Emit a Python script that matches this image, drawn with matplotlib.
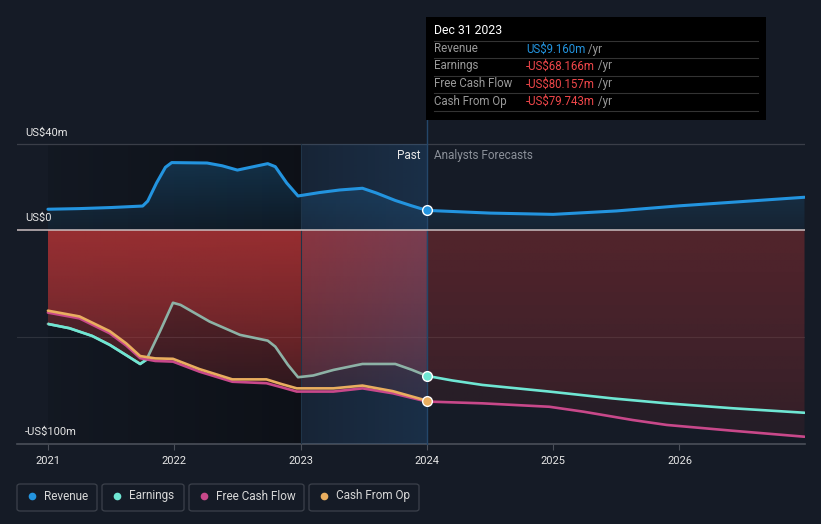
import numpy as np
import matplotlib
matplotlib.use('Agg')
import matplotlib.pyplot as plt
from matplotlib.patches import Rectangle, FancyBboxPatch
from matplotlib.lines import Line2D

plt.rcParams['font.family'] = ['Roboto', 'DejaVu Sans']

# ---- data (US$ m) ----
rev_x = [2021.0, 2021.25, 2021.5, 2021.75, 2021.79, 2021.86, 2021.93, 2021.98, 2022.26, 2022.38,
         2022.5, 2022.62, 2022.74, 2022.8, 2022.89, 2022.98, 2023.15, 2023.31, 2023.49, 2023.6,
         2023.75, 2023.88, 2024.0, 2024.5, 2025.0, 2025.5, 2026.0, 2026.5, 2026.99]
rev_y = [9.7, 10.0, 10.5, 11.2, 13.5, 22.0, 29.3, 31.5, 31.3, 30.0,
         28.0, 29.5, 31.0, 29.6, 22.0, 15.9, 17.5, 18.7, 19.5, 17.3,
         13.8, 11.3, 9.16, 7.9, 7.3, 8.9, 11.3, 13.3, 15.3]

ear_x = [2021.0, 2021.17, 2021.35, 2021.49, 2021.62, 2021.73, 2021.78, 2021.89, 2021.99, 2022.05,
         2022.28, 2022.52, 2022.74, 2022.8, 2022.9, 2022.98, 2023.1, 2023.26, 2023.49, 2023.75,
         2023.88, 2024.0, 2024.2, 2024.44, 2024.97, 2025.47, 2025.9, 2026.42, 2026.99]
ear_y = [-43.9, -45.9, -49.5, -53.7, -58.5, -62.6, -60.6, -47.0, -34.0, -35.0,
         -42.8, -49.0, -51.7, -54.5, -63.0, -68.8, -68.0, -65.4, -62.6, -62.6,
         -65.3, -68.166, -70.3, -72.4, -75.5, -78.7, -81.0, -83.3, -85.4]

fcf_x = [2021.0, 2021.25, 2021.49, 2021.62, 2021.73, 2021.85, 2021.99, 2022.2, 2022.46, 2022.73,
         2022.85, 2022.97, 2023.26, 2023.49, 2023.73, 2024.0, 2024.44, 2024.97, 2025.24, 2025.63,
         2025.9, 2026.42, 2026.99]
fcf_y = [-38.6, -41.3, -48.3, -54.0, -59.9, -61.2, -61.5, -66.2, -70.9, -71.6,
         -73.5, -75.5, -75.5, -74.0, -76.3, -80.157, -81.0, -82.6, -84.9, -88.8,
         -91.1, -93.8, -96.6]

cfo_x = [2021.0, 2021.25, 2021.49, 2021.62, 2021.73, 2021.85, 2021.99, 2022.2, 2022.46, 2022.73,
         2022.85, 2022.97, 2023.26, 2023.49, 2023.73, 2024.0]
cfo_y = [-37.7, -40.4, -47.3, -53.0, -58.9, -60.0, -60.2, -65.0, -69.8, -69.8,
         -72.0, -74.0, -74.0, -72.7, -75.3, -79.743]

years = [2021, 2022, 2023, 2024, 2025, 2026]
ytick_vals = [40, 0, -100]
ytick_text = ['US$40m', 'US$0', '-US$100m']

BG = '#151b26'
C_REV = '#2394df'
C_EAR = '#6fe6d3'
C_EAR_PAST = '#8db2a6'
C_FCF = '#c8488a'
C_CFO = '#e9ae5f'
RED = (0.69, 0.20, 0.21)

W, H = 821, 524
fig = plt.figure(figsize=(W / 100, H / 100), dpi=100, facecolor=BG)


def fpos(x, y):
    return x / W, 1 - y / H


ax = fig.add_axes([17 / W, (H - 444) / H, 788 / W, 324 / H])
ax.set_facecolor(BG)
XMIN, XMAX, YMIN, YMAX = 2020.755, 2026.994, -100, 51.4


def grad_fill(x, y, base, rgb, a_hi, a_lo, v_hi, v_lo, z):
    poly = ax.fill_between(x, y, base, facecolor='none', edgecolor='none')
    path = poly.get_paths()[0]
    img = np.zeros((256, 2, 4))
    img[..., :3] = rgb
    img[..., 3] = np.linspace(a_hi, a_lo, 256)[:, None]
    im = ax.imshow(img, extent=[x[0], x[-1], v_lo, v_hi], aspect='auto',
                   origin='upper', zorder=z, interpolation='bilinear')
    im.set_clip_path(path, transform=ax.transData)


# past darker band with horizontal gradient (below the 40m line only)
dark = np.zeros((2, 256, 4))
dark[..., 3] = np.linspace(0.1, 0.38, 256)[None, :]
ax.imshow(dark, extent=[2021, 2023, YMIN, 40], aspect='auto', zorder=1,
          interpolation='bilinear')

k_e = ear_x.index(2024.0)
k_f = fcf_x.index(2024.0)
k_r = rev_x.index(2024.0)

# red fills (past brighter, forecast dim)
grad_fill(ear_x[:k_e + 1], np.array(ear_y[:k_e + 1]), 0, RED, 0.62, 0.08, 0, -100, 3)
grad_fill(fcf_x[:k_f + 1], np.array(fcf_y[:k_f + 1]), 0, RED, 0.62, 0.08, 0, -100, 3)
grad_fill(ear_x[k_e:], np.array(ear_y[k_e:]), 0, RED, 0.23, 0.1, 0, -100, 3)
grad_fill(fcf_x[k_f:], np.array(fcf_y[k_f:]), 0, RED, 0.23, 0.1, 0, -100, 3)

# revenue fill
grad_fill(rev_x[:k_r + 1], np.array(rev_y[:k_r + 1]), 0, (0.14, 0.58, 0.87), 0.24, 0.07, 32, 0, 3)
grad_fill(rev_x[k_r:], np.array(rev_y[k_r:]), 0, (0.14, 0.58, 0.87), 0.24, 0.07, 32, 0, 3)

# highlighted last-year band, brighter towards Dec 2023
hb = np.zeros((2, 256, 4))
hb[..., :3] = (0.16, 0.40, 0.64)
hb[..., 3] = np.linspace(0.13, 0.27, 256)[None, :]
ax.imshow(hb, extent=[2023, 2024, YMIN, 40], aspect='auto', zorder=3.5,
          interpolation='bilinear')
ax.plot([2023, 2023], [YMIN, 40], color='#1f3448', lw=0.8, zorder=3.5)
ax.plot([2024, 2024], [YMIN, YMAX], color='#24476a', lw=1.0, zorder=3.6, clip_on=False)

# grid lines
ax.axhline(40, color='#3a3e48', lw=0.9, zorder=2)
ax.axhline(-50, color='#2d323c', lw=0.8, zorder=2)
ax.axhline(0, color='#cbbfc0', lw=1.1, zorder=4.5)

# lines
kw = dict(solid_joinstyle='round', solid_capstyle='round')
ax.plot(rev_x, rev_y, color=C_REV, lw=2.2, zorder=6, **kw)
ax.plot(ear_x[:k_e + 1], ear_y[:k_e + 1], color=C_EAR_PAST, lw=1.9, zorder=4.6, **kw)
bright = ax.plot(ear_x[:k_e + 1], ear_y[:k_e + 1], color=C_EAR, lw=1.9, zorder=4.7, **kw)[0]
clip_poly = ax.fill_between(fcf_x, fcf_y, -100, facecolor='none', edgecolor='none')
bright.set_clip_path(clip_poly.get_paths()[0], transform=ax.transData)
ax.plot(ear_x[k_e:], ear_y[k_e:], color=C_EAR, lw=1.9, zorder=5, **kw)
ax.plot(fcf_x, fcf_y, color=C_FCF, lw=1.9, zorder=5, **kw)
ax.plot(cfo_x, cfo_y, color=C_CFO, lw=1.9, zorder=5.1, **kw)

# markers at Dec 31 2023
for v, c in [(rev_y[k_r], C_REV), (ear_y[k_e], C_EAR), (cfo_y[-1], C_CFO)]:
    ax.plot([2024], [v], 'o', ms=7, mfc=c, mec='white', mew=1.0, zorder=7)

ax.set_xlim(XMIN, XMAX)
ax.set_ylim(YMIN, YMAX)
for s in ['top', 'right', 'left']:
    ax.spines[s].set_visible(False)
ax.spines['bottom'].set_color('#4a4f59')
ax.spines['bottom'].set_linewidth(1.2)
ax.set_yticks([])
ax.set_xticks(years)
ax.set_xticklabels([str(y) for y in years], color='#e6e6e6', fontsize=8)
ax.tick_params(axis='x', length=4, color='#4a4f59', pad=5)

# y labels
for v, t in zip(ytick_vals, ytick_text):
    x0, y0 = fpos(25, 230 - v * 2.14 - 12)
    fig.text(x0, y0, t, color='#e6e6e6', fontsize=8, va='center', ha='left')

fig.text(*fpos(420, 156), 'Past', color='#e8e8e8', fontsize=8.5, ha='right', va='center')
fig.text(*fpos(434, 156), 'Analysts Forecasts', color='#8b9099', fontsize=8.5, ha='left', va='center')

# tooltip
bx0, by0 = fpos(426, 120)
fig.patches.append(Rectangle((bx0, by0), 340 / W, 103 / H, transform=fig.transFigure,
                             facecolor='#000000', edgecolor='none', zorder=10))
fig.text(*fpos(434, 31), 'Dec 31 2023', color='white', fontsize=8.8, va='center', zorder=11)
for yy in [41, 58, 76, 93, 111]:
    xa, ya = fpos(434, yy)
    xb, _ = fpos(758, yy)
    fig.add_artist(Line2D([xa, xb], [ya, ya], transform=fig.transFigure, color='#333333',
                          lw=0.8, zorder=11))
rows = [('Revenue', 'US$9.160m', C_REV, 49), ('Earnings', '-US$68.166m', '#f0474a', 66),
        ('Free Cash Flow', '-US$80.157m', '#f0474a', 84), ('Cash From Op', '-US$79.743m', '#f0474a', 101)]
for lab, val, col, yy in rows:
    fig.text(*fpos(434, yy), lab, color='#9a9a9a', fontsize=8.3, va='center', zorder=11)
    t = fig.text(*fpos(526, yy), val, color=col, fontsize=8.3, va='center', zorder=11)
    fig.add_artist(plt.Annotation(' /yr', xy=(1, 0.5), xycoords=t, va='center', ha='left',
                                  color='#9a9a9a', fontsize=8.3, zorder=11))

# legend
legend = [('Revenue', C_REV, 17, 97), ('Earnings', C_EAR, 102, 184),
          ('Free Cash Flow', C_FCF, 189, 304), ('Cash From Op', C_CFO, 309, 419)]
for lab, col, xa, xb in legend:
    px0, py0 = fpos(xa, 511)
    fig.patches.append(FancyBboxPatch((px0, py0), (xb - xa) / W, 27 / H, transform=fig.transFigure,
                                      boxstyle='round,pad=0,rounding_size=0.004',
                                      facecolor='none', edgecolor='#3c414b', lw=0.9))
    cx, cy = fpos(xa + 15, 496)
    fig.add_artist(Line2D([cx], [cy], transform=fig.transFigure, marker='o', ms=5.5,
                          mfc=col, mec='none', ls='none'))
    fig.text(*fpos(xa + 27, 496), lab, color='#d8d8d8', fontsize=8.5, va='center')

fig.savefig('out.png', dpi=100, facecolor=BG)
